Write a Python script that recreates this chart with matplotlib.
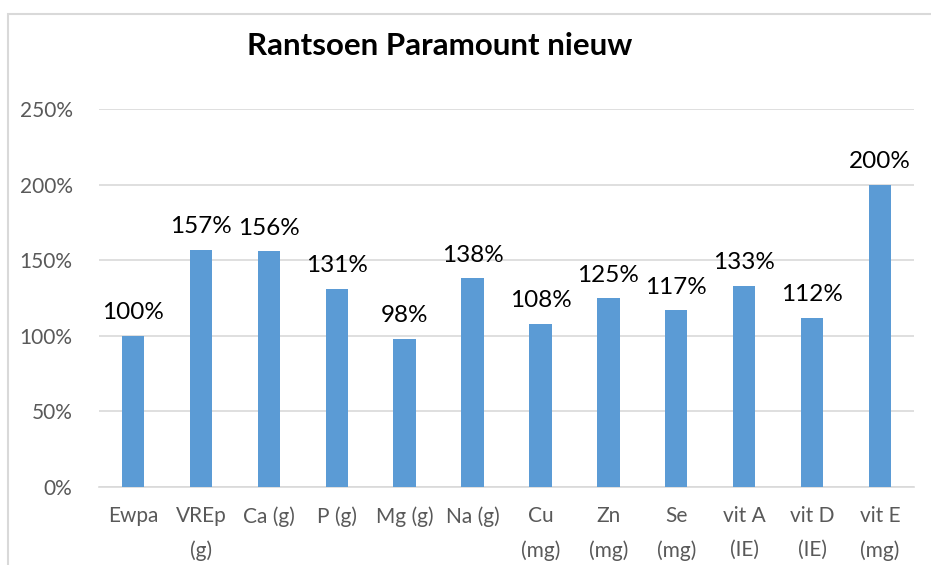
import numpy as np
import matplotlib
matplotlib.use("Agg")
import matplotlib.pyplot as plt
from matplotlib.patches import Rectangle
from matplotlib.ticker import FuncFormatter

# Data
categories = ["Ewpa", "VREp\n(g)", "Ca (g)", "P (g)", "Mg (g)", "Na (g)",
              "Cu\n(mg)", "Zn\n(mg)", "Se\n(mg)", "vit A\n(IE)", "vit D\n(IE)", "vit E\n(mg)"]
values = [1.00, 1.57, 1.56, 1.31, 0.98, 1.38, 1.08, 1.25, 1.17, 1.33, 1.12, 2.00]
title = "Rantsoen Paramount nieuw"

bar_color = "#5B9BD5"
grid_color = "#D9D9D9"
tick_color = "#595959"

plt.rcParams["font.family"] = ["Lato", "DejaVu Sans"]

W, H = 931, 565
fig = plt.figure(figsize=(W / 100, H / 100), dpi=100)

# chart border (left and top visible, cropped on right/bottom)
fig.patches.append(Rectangle((8 / W, -0.1), 1.2, (H - 14) / H + 0.1,
                             transform=fig.transFigure, fill=False,
                             edgecolor=grid_color, linewidth=1.5))

ax = fig.add_axes([99 / W, (H - 487) / H, 815 / W, 378 / H])
x = np.arange(len(categories))
bars = ax.bar(x, values, width=0.33, color=bar_color, zorder=3)

for xi, v in zip(x, values):
    ax.annotate(f"{v * 100:.0f}%", (xi, v), xytext=(0, 9), textcoords="offset points",
                ha="center", va="bottom", fontsize=17.5, color="black")

ax.set_xlim(-0.5, len(categories) - 0.5)
ax.set_ylim(0, 2.5)
ax.set_yticks(np.arange(0, 2.51, 0.5))
ax.yaxis.set_major_formatter(FuncFormatter(lambda v, p: f"{v * 100:.0f}%"))
ax.grid(axis="y", color=grid_color, linewidth=1.2, zorder=0)
ax.set_xticks(x)
ax.set_xticklabels(categories, linespacing=1.85)
ax.tick_params(axis="both", length=0, labelsize=15, colors=tick_color)
ax.tick_params(axis="x", pad=14)
ax.tick_params(axis="y", pad=19)
for s in ["top", "right", "left"]:
    ax.spines[s].set_visible(False)
ax.spines["bottom"].set_color(grid_color)
ax.spines["bottom"].set_linewidth(1.2)

fig.text(440 / W, 1 - 46 / H, title, ha="center", va="center",
         fontsize=22.5, fontweight="bold", color="black")

fig.savefig("out.png", dpi=100)
